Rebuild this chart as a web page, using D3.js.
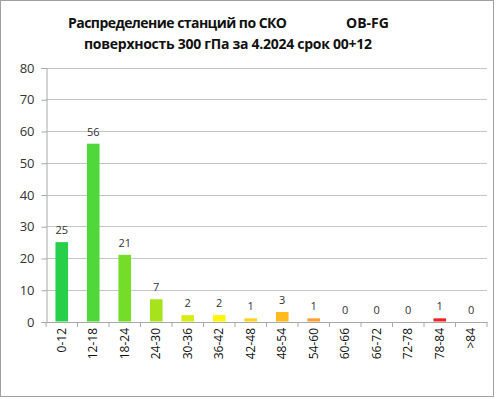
<!DOCTYPE html>
<html>
<head>
<meta charset="utf-8">
<script src="https://cdn.jsdelivr.net/npm/d3@7"></script>
<style>
  body { margin: 0; background: #fff; }
  svg { display: block; }
</style>
</head>
<body>
<div id="chart"></div>
<script>
const categories = ["0-12", "12-18", "18-24", "24-30", "30-36", "36-42", "42-48",
                    "48-54", "54-60", "60-66", "66-72", "72-78", "78-84", ">84"];
const counts = [25, 56, 21, 7, 2, 2, 1, 3, 1, 0, 0, 0, 1, 0];
const barColors = ["#27cf4a", "#4fd83a", "#74dd28", "#a7e31c", "#d6ec14", "#fdf600", "#ffd21e",
                   "#ffba1c", "#f9a030", "#f08040", "#ee6040", "#ee4030", "#ee2424", "#dd1111"];
const yTicks = [0, 10, 20, 30, 40, 50, 60, 70, 80];
const titleLines = ["Распределение станций по СКО", "поверхность  300 гПа за 4.2024 срок 00+12"];

(function() {
    const width = 496, height = 399;
    const left = 46, right = 487, top = 67.5, bottom = 321.5;

    const svg = d3.select("#chart").append("svg")
        .attr("width", width)
        .attr("height", height);

    // outer frame
    svg.append("rect")
        .attr("x", 0.5).attr("y", 0.5)
        .attr("width", width - 3).attr("height", height - 3)
        .attr("fill", "#fff").attr("stroke", "#a0a0a0");

    const x = d3.scaleBand().domain(categories).range([left, right]).paddingInner(0.6).paddingOuter(0.3);
    const xb = d3.scaleBand().domain(categories).range([left, right]);
    const y = d3.scaleLinear().domain([0, 80]).range([bottom, top]);

    // gridlines
    svg.append("g")
        .selectAll("line")
        .data(yTicks.filter(d => d > 0))
        .enter().append("line")
        .attr("x1", left).attr("x2", right)
        .attr("y1", d => Math.round(y(d)) + 0.5).attr("y2", d => Math.round(y(d)) + 0.5)
        .attr("stroke", "#c4c4c4");

    // y axis
    const yAxis = svg.append("g")
        .attr("transform", "translate(" + (left + 0.5) + ",0.5)")
        .call(d3.axisLeft(y).tickValues(yTicks).tickSize(5).tickPadding(7));
    yAxis.select(".domain").attr("stroke", "#a8a8a8");
    yAxis.selectAll(".tick line").attr("stroke", "#a8a8a8");
    yAxis.selectAll("text")
        .attr("font-family", "'Open Sans', sans-serif")
        .attr("font-size", 13)
        .attr("fill", "#333");

    // bars
    svg.append("g")
        .selectAll("rect")
        .data(categories)
        .enter().append("rect")
        .attr("x", d => x(d))
        .attr("width", x.bandwidth())
        .attr("y", (d, i) => y(counts[i]))
        .attr("height", (d, i) => y(0) - y(counts[i]))
        .attr("fill", (d, i) => barColors[i]);

    // x axis
    const xAxis = svg.append("g")
        .attr("transform", "translate(0," + (bottom + 0.5) + ")")
        .call(d3.axisBottom(xb).tickSize(0).tickPadding(8));
    xAxis.select(".domain").attr("stroke", "#a8a8a8");
    xAxis.selectAll("g.tick").append("line")
        .attr("x1", -xb.bandwidth() / 2).attr("x2", -xb.bandwidth() / 2)
        .attr("y1", 0).attr("y2", 5)
        .attr("stroke", "#a8a8a8");
    xAxis.append("line")
        .attr("x1", right).attr("x2", right).attr("y1", 0).attr("y2", 5)
        .attr("stroke", "#a8a8a8");
    xAxis.selectAll("text")
        .attr("font-family", "'Open Sans', sans-serif")
        .attr("font-size", 12)
        .attr("fill", "#111")
        .attr("text-anchor", "end")
        .attr("dy", "0.35em")
        .attr("transform", "translate(0,6) rotate(-90)")
        .attr("x", 0).attr("y", 0);

    // value labels
    svg.append("g")
        .selectAll("text")
        .data(categories)
        .enter().append("text")
        .attr("x", d => x(d) + x.bandwidth() / 2)
        .attr("y", (d, i) => y(counts[i]) - 8)
        .attr("text-anchor", "middle")
        .attr("font-family", "'Open Sans', sans-serif")
        .attr("font-size", 11)
        .attr("fill", "#333")
        .text((d, i) => counts[i]);

    // title
    const title = svg.append("g")
        .attr("font-family", "'Open Sans', sans-serif")
        .attr("font-weight", "bold")
        .attr("font-size", 14)
        .attr("fill", "#111")
        .style("white-space", "pre");
    title.append("text").attr("x", 68).attr("y", 28).attr("textLength", 219).text(titleLines[0]);
    title.append("text").attr("x", 346).attr("y", 28).text("OB-FG");
    title.append("text").attr("x", 84).attr("y", 49).attr("textLength", 288).text(titleLines[1]);
})();
</script>
</body>
</html>
